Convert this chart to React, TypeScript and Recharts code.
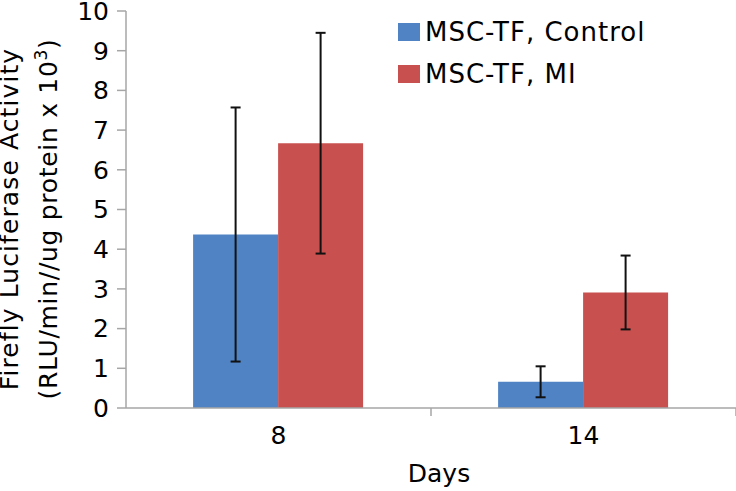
import { BarChart, Bar, XAxis, YAxis, ErrorBar, Legend } from "recharts";

const days = ["8", "14"];
const controlMeans = [4.37, 0.66];
const controlErrors = [3.2, 0.39];
const miMeans = [6.67, 2.91];
const miErrors = [2.78, 0.93];
const yTicks = [0, 1, 2, 3, 4, 5, 6, 7, 8, 9, 10];

const data = days.map((d, i) => ({
  day: d,
  control: controlMeans[i],
  controlErr: controlErrors[i],
  mi: miMeans[i],
  miErr: miErrors[i],
}));

const FONT = "'DejaVu Sans', Verdana, sans-serif";
const BLUE = "#4f83c4";
const RED = "#c8514f";
const AXIS = "#a6a6a6";

const W = 736;
const H = 491;
const LEFT = 126;
const bandWidth = (W - LEFT) / days.length;

function XTick(props: any) {
  const { x, y, payload } = props;
  return (
    <g>
      <line x1={x + bandWidth / 2} y1={y - 8} x2={x + bandWidth / 2} y2={y} stroke={AXIS} strokeWidth={1.5} />
      <text x={x} y={y + 28} textAnchor="middle" fontSize={25} fill="#000" fontFamily={FONT}>
        {payload.value}
      </text>
    </g>
  );
}

function YTitle() {
  return (
    <g transform="translate(0, 219) rotate(-90)">
      <text x={0} y={18} textAnchor="middle" fontSize={25} letterSpacing={1.1} fill="#000" fontFamily={FONT}>
        Firefly Luciferase Activity
      </text>
      <text x={0} y={57} textAnchor="middle" fontSize={25} letterSpacing={0.7} fill="#000" fontFamily={FONT}>
        (RLU/min//ug protein x 10
        <tspan dy={-10} fontSize={17}>3</tspan>
        <tspan dy={10}>)</tspan>
      </text>
    </g>
  );
}

function LegendBox(props: any) {
  const { payload } = props;
  return (
    <div style={{ fontFamily: FONT, fontSize: 26, letterSpacing: 1, color: "#000", lineHeight: "30px" }}>
      {payload.map((p: any) => (
        <div key={p.value} style={{ display: "flex", alignItems: "center", height: 42 }}>
          <span style={{ display: "inline-block", width: 22, height: 18, background: p.color, marginRight: 5 }} />
          <span>{p.value}</span>
        </div>
      ))}
    </div>
  );
}

export default function App() {
  return (
    <div style={{ position: "absolute", left: 0, top: 0, width: W, height: H, background: "#fff" }}>
      <BarChart
        width={W}
        height={H}
        data={data}
        margin={{ top: 11, right: 0, left: 0, bottom: 0 }}
        barCategoryGap="22%"
        barGap={0}
      >
        <XAxis
          dataKey="day"
          height={83}
          tickLine={false}
          stroke={AXIS}
          strokeWidth={1.5}
          tick={<XTick />}
          interval={0}
          label={{ value: "Days", position: "insideBottom", offset: 9, dx: 8, fontSize: 25, fill: "#000", fontFamily: FONT }}
        />
        <YAxis
          width={LEFT}
          domain={[0, 10]}
          ticks={yTicks}
          interval={0}
          stroke={AXIS}
          strokeWidth={1.5}
          tickSize={9}
          tickMargin={8}
          tick={{ fontSize: 25, fill: "#000", fontFamily: FONT }}
          label={<YTitle />}
        />
        <Legend
          layout="vertical"
          verticalAlign="middle"
          align="center"
          content={<LegendBox />}
          wrapperStyle={{ left: 398, top: 11, width: 330 }}
        />
        <Bar dataKey="control" name="MSC-TF, Control" fill={BLUE} isAnimationActive={false}>
          <ErrorBar dataKey="controlErr" width={5} stroke="#111" strokeWidth={2} />
        </Bar>
        <Bar dataKey="mi" name="MSC-TF, MI" fill={RED} isAnimationActive={false}>
          <ErrorBar dataKey="miErr" width={5} stroke="#111" strokeWidth={2} />
        </Bar>
      </BarChart>
    </div>
  );
}
